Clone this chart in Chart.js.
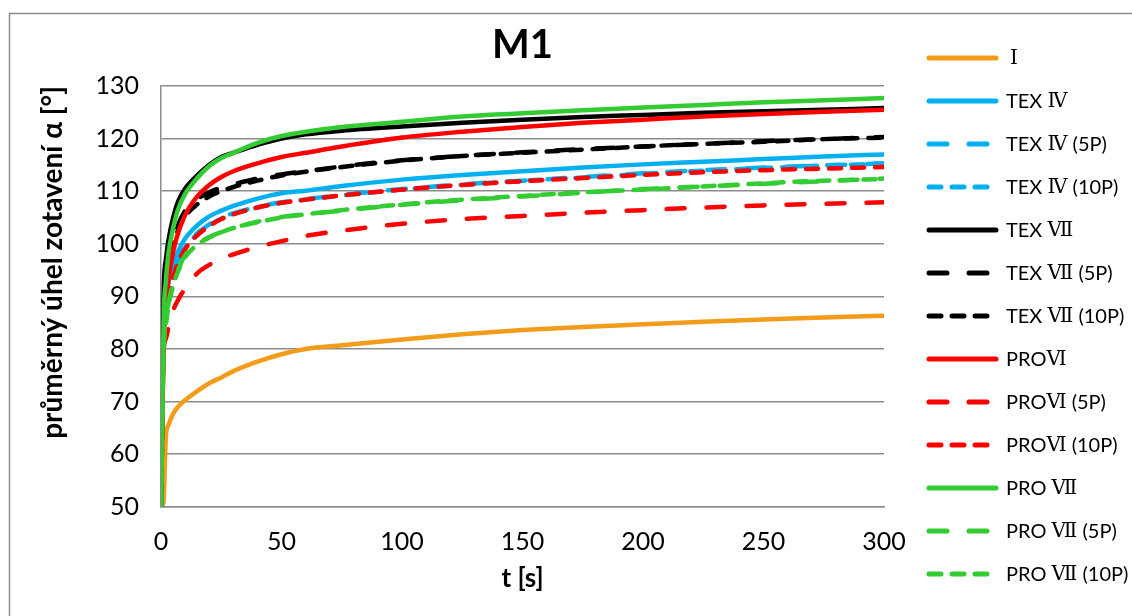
<!DOCTYPE html>
<html>
<head>
<meta charset="utf-8">
<script src="https://cdn.jsdelivr.net/npm/chart.js@4"></script>
<style>
  body { margin: 0; background: #fff; }
</style>
</head>
<body>
<canvas id="myChart" width="1132" height="616"></canvas>
<script>
// data (t in seconds, angle in degrees)
const times = [0, 1, 2, 3, 5, 7, 10, 15, 20, 25, 30, 40, 50, 60, 75, 100, 125, 150, 175, 200, 225, 250, 275, 300];

const seriesNames = [
  'Ⅰ', 'TEX Ⅳ', 'TEX Ⅳ (5P)', 'TEX Ⅳ (10P)',
  'TEX Ⅶ', 'TEX Ⅶ (5P)', 'TEX Ⅶ (10P)',
  'PROⅥ', 'PROⅥ (5P)', 'PROⅥ (10P)',
  'PRO Ⅶ', 'PRO Ⅶ (5P)', 'PRO Ⅶ (10P)'
];

const valsI       = [50, 51, 63.5, 65.5, 67.7, 69, 70.3, 72, 73.5, 74.6, 75.8, 77.6, 79, 80, 80.7, 81.8, 82.8, 83.6, 84.2, 84.7, 85.2, 85.6, 86, 86.3];
const valsTex4    = [50, 84, 89, 92.5, 96, 98.5, 101, 103.5, 105.2, 106.3, 107.2, 108.6, 109.6, 110.1, 111, 112.2, 113.1, 113.8, 114.5, 115.1, 115.6, 116.1, 116.6, 117.0];
const valsTex4_5  = [50, 82, 87, 90.5, 94.5, 97, 99.5, 102, 103.7, 105, 105.8, 107, 107.9, 108.5, 109.3, 110.4, 111.3, 112, 112.7, 113.4, 114, 114.5, 114.9, 115.3];
const valsTex4_10 = [50, 81, 86.5, 90, 94, 96.8, 99.3, 101.8, 103.5, 104.8, 105.7, 106.9, 107.8, 108.4, 109.2, 110.3, 111.2, 112, 112.6, 113.3, 113.9, 114.4, 114.9, 115.2];
const valsTex7    = [50, 90, 97, 100.5, 105, 108, 110.5, 113, 115, 116.5, 117.3, 118.8, 120, 120.8, 121.5, 122.3, 123, 123.6, 124.1, 124.5, 124.9, 125.2, 125.5, 125.8];
const valsTex7_5  = [50, 86, 92, 96, 100.5, 103.5, 106.3, 108.5, 109.8, 110.7, 111.3, 112.4, 113.2, 113.8, 114.7, 115.9, 116.7, 117.4, 118, 118.5, 119, 119.5, 119.9, 120.3];
const valsTex7_10 = [50, 85, 91, 95, 99.5, 102.5, 105.2, 107.5, 109, 110, 110.8, 112, 113, 113.7, 114.6, 115.8, 116.7, 117.3, 117.9, 118.5, 119, 119.4, 119.9, 120.2];
const valsPro6    = [50, 80, 88, 93, 98.5, 102, 105.5, 109, 111.2, 112.7, 113.8, 115.3, 116.5, 117.3, 118.5, 120.2, 121.3, 122.2, 123, 123.6, 124.2, 124.7, 125.1, 125.5];
const valsPro6_5  = [50, 79, 82, 84, 87.3, 89.3, 91.5, 94.4, 96, 97.2, 98, 99.4, 100.5, 101.5, 102.5, 103.8, 104.7, 105.3, 105.9, 106.4, 106.9, 107.3, 107.6, 107.9];
const valsPro6_10 = [50, 81, 86, 89.5, 93.5, 96.3, 99, 101.6, 103.4, 104.7, 105.6, 106.9, 107.8, 108.4, 109.2, 110.3, 111.2, 111.9, 112.5, 113.1, 113.6, 114, 114.3, 114.6];
const valsPro7    = [50, 85, 93, 98, 103, 106.5, 109.5, 112.5, 114.8, 116.3, 117.3, 119.2, 120.5, 121.3, 122.2, 123.2, 124.2, 124.8, 125.4, 125.9, 126.4, 126.9, 127.3, 127.7];
const valsPro7_5  = [50, 80, 85, 88.5, 92.5, 95, 97.8, 100, 101.3, 102.2, 103, 104.2, 105.1, 105.6, 106.3, 107.4, 108.3, 109, 109.7, 110.4, 110.9, 111.4, 111.9, 112.4];
const valsPro7_10 = [50, 79, 84.5, 88, 92, 94.7, 97.5, 99.8, 101.2, 102.2, 103, 104.1, 105, 105.6, 106.4, 107.5, 108.4, 109.1, 109.8, 110.3, 110.9, 111.5, 112, 112.3];

const allValues = [valsI, valsTex4, valsTex4_5, valsTex4_10, valsTex7, valsTex7_5, valsTex7_10,
  valsPro6, valsPro6_5, valsPro6_10, valsPro7, valsPro7_5, valsPro7_10];

const colors = ['#F39C1A', '#00B0F0', '#00B0F0', '#00B0F0', '#000000', '#000000', '#000000',
  '#FF0000', '#FF0000', '#FF0000', '#33CC33', '#33CC33', '#33CC33'];
// 0 = solid, 1 = long dash (5P), 2 = dash (10P)
const dashKind = [0, 0, 1, 2, 0, 1, 2, 0, 1, 2, 0, 1, 2];
const dashes = [[], [18, 22], [12, 11]];

Chart.defaults.font.family = "Lato, 'Noto Sans CJK JP', sans-serif";
Chart.defaults.color = '#000';

const gridGray = '#8C8C8C';

// outer frame of the chart
const frame = {
  id: 'frame',
  beforeDraw(chart) {
    const ctx = chart.ctx;
    ctx.save();
    ctx.fillStyle = '#fff';
    ctx.fillRect(0, 0, chart.width, chart.height);
    ctx.strokeStyle = gridGray;
    ctx.lineWidth = 1.5;
    ctx.strokeRect(9.5, 13.5, 1300, 800);
    ctx.restore();
  }
};

// legend on the right, drawn by hand so the dashes show and roman numerals get a serif font
function drawRuns(ctx, text, x, y) {
  const parts = text.split(/([\u2160-\u217F]+)/);
  parts.forEach(p => {
    if (!p) return;
    ctx.font = /[\u2160-\u217F]/.test(p) ? "20px 'DejaVu Serif'" : "20px Lato";
    ctx.fillText(p, x, y);
    x += ctx.measureText(p).width;
  });
}

const sideLegend = {
  id: 'sideLegend',
  afterDraw(chart) {
    const ctx = chart.ctx;
    ctx.save();
    chart.data.datasets.forEach((ds, i) => {
      const y = 58 + i * 43;
      ctx.beginPath();
      ctx.setLineDash(ds.borderDash);
      ctx.lineCap = 'round';
      ctx.lineWidth = 5;
      ctx.strokeStyle = ds.borderColor;
      ctx.moveTo(929, y);
      ctx.lineTo(996, y);
      ctx.stroke();
      ctx.setLineDash([]);
      ctx.fillStyle = '#000';
      ctx.textBaseline = 'middle';
      ctx.textAlign = 'left';
      drawRuns(ctx, ds.label, i === 0 ? 1010 : 1006, y + 1);
    });
    ctx.restore();
  }
};

const datasets = allValues.map((vals, i) => ({
  label: seriesNames[i],
  data: vals.map((v, j) => ({ x: times[j], y: v })),
  borderColor: colors[i],
  backgroundColor: colors[i],
  borderWidth: 4.5,
  borderDash: dashes[dashKind[i]],
  borderCapStyle: 'round',
  borderJoinStyle: 'round',
  pointRadius: 0,
  cubicInterpolationMode: 'monotone',
  fill: false,
  order: -i, // later series drawn on top, like the original
}));

const config = {
  type: 'line',
  data: { datasets },
  options: {
    responsive: false,
    animation: false,
    layout: { padding: { left: 10, top: 13, right: 248, bottom: 0 } },
    plugins: {
      title: {
        display: true,
        text: 'M1',
        fullSize: false,
        font: { size: 40, weight: 'bold' },
        padding: { top: 8, bottom: 17 }
      },
      legend: { display: false },
      tooltip: { enabled: false }
    },
    scales: {
      x: {
        type: 'linear',
        min: 0,
        max: 300,
        grid: { display: false, drawTicks: false },
        border: { display: true, color: gridGray, width: 1.5 },
        ticks: { stepSize: 50, padding: 20, font: { size: 25 } },
        title: {
          display: true,
          text: 't [s]',
          font: { size: 26, weight: 'bold' },
          padding: { top: -14, bottom: 22 }
        }
      },
      y: {
        min: 50,
        max: 130,
        grid: { color: gridGray, lineWidth: 1.5, drawTicks: false },
        border: { display: true, color: gridGray, width: 1.5 },
        ticks: { stepSize: 10, padding: 22, font: { size: 25 } },
        title: {
          display: true,
          text: 'průměrný úhel zotavení α [°]',
          align: 'end',
          font: { size: 28, weight: 'bold' },
          padding: { top: 26, bottom: 4 }
        }
      }
    }
  },
  plugins: [frame, sideLegend]
};

const myChart = new Chart(document.getElementById('myChart'), config);
</script>
</body>
</html>
